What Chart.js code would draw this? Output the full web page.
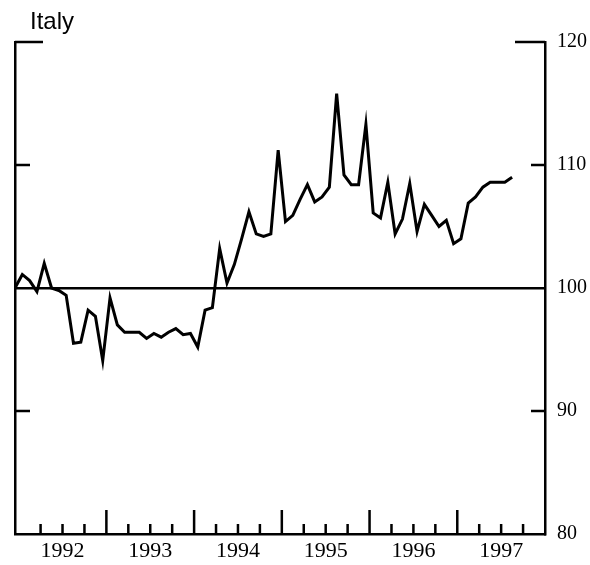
<!DOCTYPE html>
<html>
<head>
<meta charset="utf-8">
<script src="https://cdn.jsdelivr.net/npm/chart.js@4.4.1/dist/chart.umd.min.js"></script>
<style>
  html, body { margin: 0; padding: 0; background: #fff; }
  #wrap { width: 590px; height: 565px; }
</style>
</head>
<body>
<div id="wrap"><canvas id="italyChart"></canvas></div>
<script>
var chartTitle = "Italy";
var years = ["1992", "1993", "1994", "1995", "1996", "1997"];
var yTicks = [80, 90, 100, 110, 120];
// monthly index, Dec 1991 = month 0
var italy = [
  100.0, 101.1, 100.6, 99.7, 102.0, 100.0, 99.8, 99.4, 95.5, 95.6, 98.2, 97.7,
  94.1, 99.2, 97.0, 96.4, 96.4, 96.4, 95.9, 96.3, 96.0, 96.4, 96.7, 96.2,
  96.3, 95.2, 98.2, 98.4, 103.2, 100.4, 101.9, 104.0, 106.2, 104.4, 104.2, 104.4,
  111.2, 105.4, 105.9, 107.2, 108.4, 107.0, 107.4, 108.2, 115.8, 109.2, 108.4, 108.4,
  113.3, 106.1, 105.7, 108.6, 104.4, 105.6, 108.5, 104.6, 106.8, 105.9, 105.0, 105.5,
  103.6, 104.0, 106.9, 107.4, 108.2, 108.6, 108.6, 108.6, 109.0
];

var points = italy.map(function (v, i) { return { x: i, y: v }; });

var frame = {
  id: 'frame',
  afterDatasetsDraw: function (chart) {
    var ctx = chart.ctx, a = chart.chartArea;
    var xs = chart.scales.x, ys = chart.scales.y;
    ctx.save();
    ctx.strokeStyle = '#000';
    ctx.lineWidth = 2.5;
    ctx.beginPath();
    // inward ticks on the x axis, quarterly, taller at year ends
    for (var m = 3.5; m < 72; m += 3) {
      var px = xs.getPixelForValue(m);
      var len = ((m - 0.5) % 12 === 0) ? 24 : 10;
      ctx.moveTo(px, a.bottom);
      ctx.lineTo(px, a.bottom - len);
    }
    // inward ticks on both side axes
    yTicks.forEach(function (v) {
      if (v === 80 || v === 100) return;
      var py = ys.getPixelForValue(v);
      var l = v === 120 ? 28 : 15;
      var r = v === 120 ? 30 : 14;
      ctx.moveTo(a.left, py); ctx.lineTo(a.left + l, py);
      ctx.moveTo(a.right, py); ctx.lineTo(a.right - r, py);
    });
    ctx.stroke();
    ctx.fillStyle = '#000';
    ctx.font = '24px "Liberation Sans", Arial, sans-serif';
    ctx.textBaseline = 'alphabetic';
    ctx.fillText(chartTitle, 30, 29);
    ctx.restore();
  }
};

new Chart(document.getElementById('italyChart'), {
  type: 'line',
  data: {
    datasets: [{
      data: points,
      borderColor: '#000',
      borderWidth: 3,
      pointRadius: 0,
      tension: 0,
      fill: false
    }]
  },
  options: {
    responsive: true,
    maintainAspectRatio: false,
    animation: false,
    layout: { padding: { left: 15, right: 2, top: 42, bottom: 2 } },
    plugins: { legend: { display: false }, tooltip: { enabled: false } },
    scales: {
      x: {
        type: 'linear',
        min: 0,
        max: 72.5,
        afterBuildTicks: function (scale) {
          scale.ticks = years.map(function (y, k) { return { value: 6.5 + 12 * k }; });
        },
        afterFit: function (scale) { scale.height = 29; },
        ticks: {
          autoSkip: false,
          maxRotation: 0,
          padding: 4,
          color: '#000',
          font: { family: '"Liberation Serif", "Times New Roman", serif', size: 22 },
          callback: function (v, i) { return years[i]; }
        },
        grid: { display: false, drawTicks: false },
        border: { display: true, color: '#000', width: 2.5 }
      },
      yL: {
        type: 'linear',
        position: 'left',
        min: 80,
        max: 120,
        ticks: { display: false },
        grid: { display: false, drawTicks: false },
        border: { display: true, color: '#000', width: 2.5 }
      },
      y: {
        type: 'linear',
        position: 'right',
        min: 80,
        max: 120,
        afterBuildTicks: function (scale) {
          scale.ticks = yTicks.map(function (v) { return { value: v }; });
        },
        afterFit: function (scale) { scale.width = 43; },
        ticks: {
          padding: 12,
          color: '#000',
          font: { family: '"Liberation Serif", "Times New Roman", serif', size: 20 }
        },
        grid: {
          drawTicks: false,
          lineWidth: 2.5,
          color: function (c) { return c.tick && c.tick.value === 100 ? '#000' : 'rgba(0,0,0,0)'; }
        },
        border: { display: true, color: '#000', width: 2.5 }
      }
    }
  },
  plugins: [frame]
});
</script>
</body>
</html>
